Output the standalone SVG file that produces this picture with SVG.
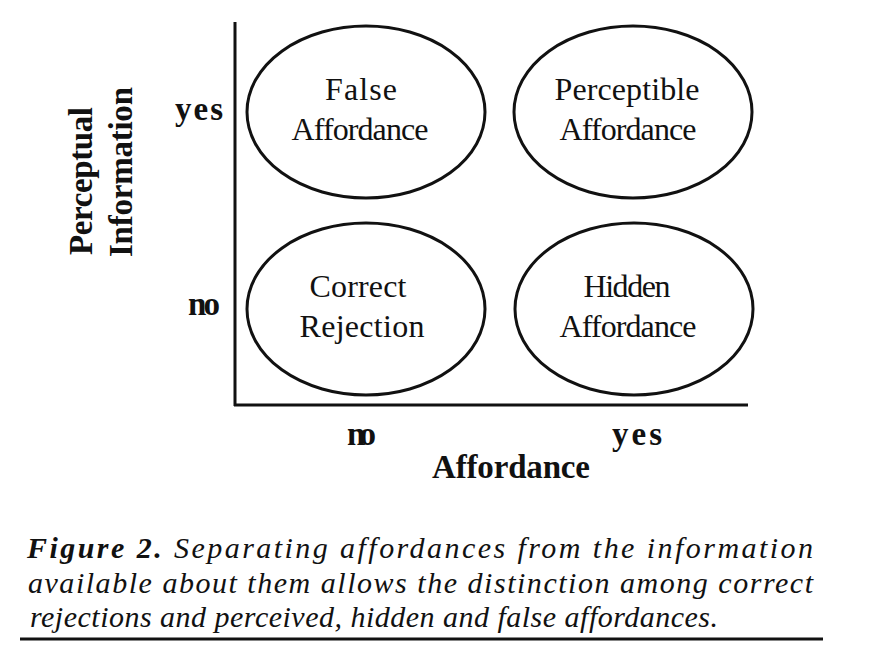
<svg xmlns="http://www.w3.org/2000/svg" width="869" height="659" viewBox="0 0 869 659">
<style>
.ell{fill:none;stroke:#111;stroke-width:3}
.axis{stroke:#111;stroke-width:3;fill:none}
.lbl{font-family:"Liberation Serif","Times New Roman",serif;font-size:32px;fill:#111;text-anchor:middle}
.ax{font-family:"Liberation Serif","Times New Roman",serif;font-size:33px;font-weight:bold;fill:#111}
.cap{font-family:"Liberation Serif","Times New Roman",serif;font-size:30px;font-style:italic;fill:#111}
</style>
<rect width="869" height="659" fill="#fff"/>
<g id="axes">
<line class="axis" x1="235" y1="22" x2="235" y2="406"/>
<line class="axis" x1="234" y1="405" x2="748" y2="405"/>
</g>
<g id="node-false">
<ellipse class="ell" cx="366" cy="112" rx="119" ry="86"/>
<text class="lbl" x="361" y="100" textLength="72">False</text>
<text class="lbl" x="360" y="140" textLength="137">Affordance</text>
</g>
<g id="node-perceptible">
<ellipse class="ell" cx="633" cy="112" rx="119" ry="86"/>
<text class="lbl" x="627" y="100" textLength="145">Perceptible</text>
<text class="lbl" x="628" y="140" textLength="137">Affordance</text>
</g>
<g id="node-correct">
<ellipse class="ell" cx="366" cy="309" rx="119" ry="86"/>
<text class="lbl" x="358" y="297" textLength="97">Correct</text>
<text class="lbl" x="362" y="337" textLength="125">Rejection</text>
</g>
<g id="node-hidden">
<ellipse class="ell" cx="634" cy="309" rx="119" ry="86"/>
<text class="lbl" x="627" y="297" textLength="87">Hidden</text>
<text class="lbl" x="628" y="337" textLength="137">Affordance</text>
</g>
<g id="labels">
<text class="ax" x="175" y="120" textLength="48">yes</text>
<text class="ax" x="188" y="315" textLength="32">no</text>
<text class="ax" x="347" y="445" textLength="29">no</text>
<text class="ax" x="612" y="445" textLength="50">yes</text>
<text class="ax" x="432" y="478" textLength="158">Affordance</text>
<text class="ax" transform="translate(92,181) rotate(-90)" text-anchor="middle" textLength="148">Perceptual</text>
<text class="ax" transform="translate(132,172) rotate(-90)" text-anchor="middle" textLength="170">Information</text>
</g>
<g id="caption">
<text class="cap" x="27" y="558" textLength="786"><tspan font-weight="bold">Figure 2.</tspan>  Separating affordances from the information</text>
<text class="cap" x="28" y="593" textLength="785">available about them allows the distinction among correct</text>
<text class="cap" x="30" y="627" textLength="688">rejections and perceived, hidden and false affordances.</text>
<line x1="20" y1="639" x2="823" y2="639" stroke="#111" stroke-width="3"/>
</g>
</svg>
